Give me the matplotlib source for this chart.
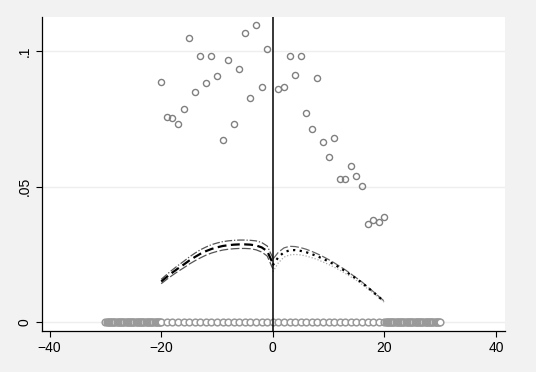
import numpy as np
import matplotlib.pyplot as plt

plt.rcParams['font.family'] = ['Liberation Sans', 'DejaVu Sans']

# binned means (hollow circles)
bin_x = [-20, -19, -18, -17, -16, -15, -14, -13, -12, -11, -10, -9, -8, -7, -6, -5, -4, -3, -2, -1,
         1, 2, 3, 4, 5, 6, 7, 8, 9, 10, 11, 12, 13, 14, 15, 16, 17, 18, 19, 20]
bin_y = [0.0887, 0.0759, 0.0753, 0.0733, 0.0786, 0.1049, 0.0848, 0.0982, 0.0881, 0.0982,
         0.0908, 0.0672, 0.0968, 0.0733, 0.0934, 0.1069, 0.0827, 0.1096, 0.0867, 0.1007,
         0.0861, 0.0867, 0.0982, 0.0914, 0.0982, 0.0772, 0.0712, 0.0900, 0.0665, 0.0611,
         0.0679, 0.0530, 0.0530, 0.0577, 0.0538, 0.0503, 0.0362, 0.0376, 0.0369, 0.0389]

# fitted curves, left of cutoff
left_x = [-20, -19, -18, -17, -16, -15, -14, -13, -12, -11, -10, -9, -8, -7, -6, -5, -4, -3, -2, -1, 0]
left_fit = [0.0150, 0.0167, 0.0183, 0.0198, 0.0212, 0.0227, 0.0240, 0.0252, 0.0262, 0.0270, 0.0276,
            0.0281, 0.0284, 0.0286, 0.0287, 0.0287, 0.0286, 0.0283, 0.0276, 0.0262, 0.0217]
left_hi = [0.0158, 0.0176, 0.0193, 0.0209, 0.0224, 0.0240, 0.0254, 0.0267, 0.0277, 0.0286, 0.0292,
           0.0297, 0.0300, 0.0302, 0.0303, 0.0303, 0.0302, 0.0300, 0.0294, 0.0281, 0.0238]
left_lo = [0.0142, 0.0158, 0.0173, 0.0187, 0.0200, 0.0214, 0.0226, 0.0237, 0.0247, 0.0255, 0.0261,
           0.0266, 0.0269, 0.0271, 0.0272, 0.0272, 0.0271, 0.0267, 0.0259, 0.0244, 0.0197]

# fitted curves, right of cutoff
right_x = [0, 1, 2, 3, 4, 5, 6, 7, 8, 9, 10, 11, 12, 13, 14, 15, 16, 17, 18, 19, 20]
right_fit = [0.0210, 0.0240, 0.0258, 0.0265, 0.0266, 0.0263, 0.0258, 0.0251, 0.0243, 0.0234, 0.0224,
             0.0213, 0.0201, 0.0188, 0.0174, 0.0160, 0.0145, 0.0128, 0.0111, 0.0093, 0.0075]
right_hi = [0.0232, 0.0258, 0.0274, 0.0280, 0.0279, 0.0275, 0.0269, 0.0261, 0.0252, 0.0242, 0.0231,
            0.0219, 0.0206, 0.0193, 0.0178, 0.0163, 0.0148, 0.0130, 0.0113, 0.0095, 0.0077]
right_lo = [0.0186, 0.0219, 0.0240, 0.0248, 0.0250, 0.0248, 0.0244, 0.0238, 0.0231, 0.0222, 0.0213,
            0.0203, 0.0192, 0.0180, 0.0167, 0.0154, 0.0139, 0.0123, 0.0107, 0.0090, 0.0073]

# support of the running variable (rug of points at zero)
rug_x = np.concatenate([np.arange(-30, -20, 0.2), np.arange(-20, 21, 1), np.arange(20.2, 30.2, 0.2)])

fig = plt.figure(figsize=(5.36, 3.72), dpi=100, facecolor='#f2f2f2')
ax = fig.add_axes([0.078, 0.110, 0.864, 0.844])
ax.set_facecolor('white')

for yv in [0, 0.05, 0.1]:
    ax.axhline(yv, color='#eeeeee', lw=1, zorder=0)

ax.plot(rug_x, np.zeros(len(rug_x)), 'o', ms=4.8, mfc='white', mec='#999999', mew=1.1, zorder=2)
ax.plot(bin_x, bin_y, 'o', ms=4.4, mfc='none', mec='#808080', mew=1, zorder=3)

ax.plot(left_x, left_hi, color='#555555', lw=0.9, dashes=(6, 1.5, 1, 1.5), zorder=4)
ax.plot(left_x, left_lo, color='#555555', lw=0.9, dashes=(7, 2), zorder=4)
ax.plot(left_x, left_fit, color='black', lw=1.6, dashes=(4, 2), zorder=5)
ax.plot(right_x, right_hi, color='#666666', lw=0.9, dashes=(7, 2), zorder=4)
ax.plot(right_x, right_lo, color='#aaaaaa', lw=0.9, dashes=(1, 1.5), zorder=4)
ax.plot(right_x, right_fit, color='black', lw=1.6, dashes=(1, 2), zorder=5)

ax.axvline(0, color='black', lw=1.1, zorder=6)

ax.set_xlim(-41.4, 41.6)
ax.set_ylim(-0.0033, 0.1126)
ax.set_xticks([-40, -20, 0, 20, 40])
ax.set_yticks([0, 0.05, 0.1])
ax.set_yticklabels(['0', '.05', '.1'], rotation=90, va='center')
ax.tick_params(labelsize=10, length=4, width=0.8, colors='black')
for s in ['top', 'right']:
    ax.spines[s].set_visible(False)
ax.spines['left'].set_linewidth(0.9)
ax.spines['bottom'].set_linewidth(0.9)

fig.savefig('out.png', dpi=100, facecolor=fig.get_facecolor())
